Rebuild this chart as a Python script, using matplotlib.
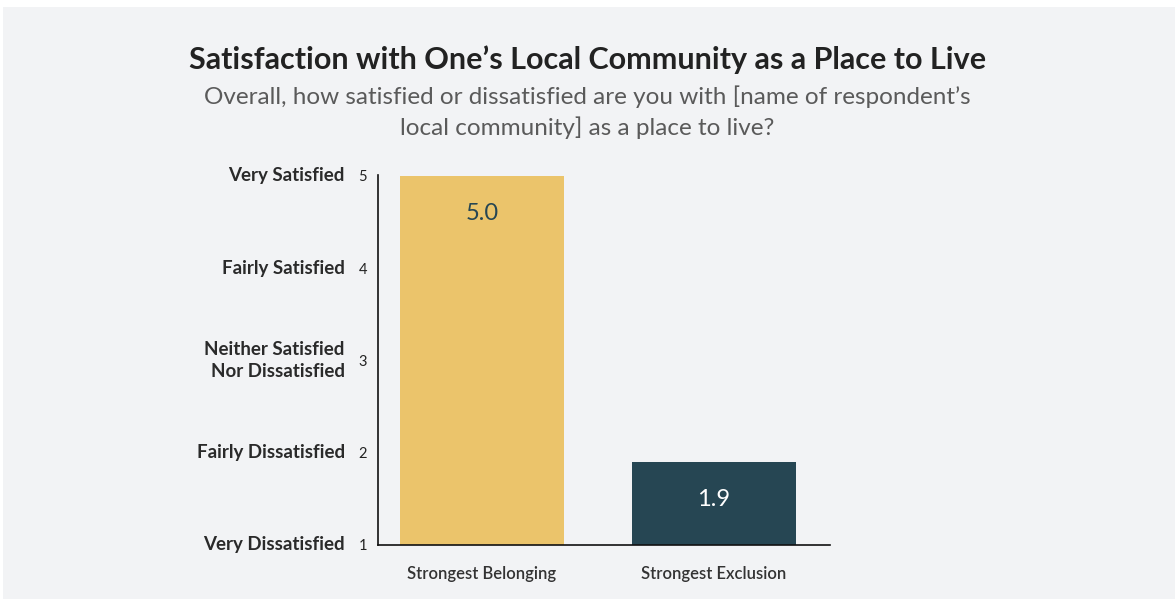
import matplotlib
matplotlib.use("Agg")
from matplotlib import pyplot as plt
from matplotlib.patches import Rectangle

# data
groups = ["Strongest Belonging", "Strongest Exclusion"]
scores = [5.0, 1.9]
bar_colors = ["#EBC46B", "#264653"]
label_colors = ["#264653", "#FFFFFF"]
tick_values = [1, 2, 3, 4, 5]
tick_names = ["Very Dissatisfied", "Fairly Dissatisfied",
              "Neither Satisfied\nNor Dissatisfied", "Fairly Satisfied", "Very Satisfied"]

BG = "#F2F3F5"
plt.rcParams['font.family'] = ['Lato', 'DejaVu Sans']

fig = plt.figure(figsize=(11.75, 5.99), dpi=100, facecolor="white")
fig.patches.append(Rectangle((3/1175, 0), 1, 1 - 7/599, transform=fig.transFigure,
                             facecolor=BG, edgecolor="none", zorder=-10))

ax = fig.add_axes([0.3217, 0.0902, 0.3847, 0.6177])
ax.set_facecolor(BG)

x = range(len(groups))
ax.bar(x, [s - 1 for s in scores], bottom=1, width=0.707, color=bar_colors, zorder=2)

for i, s in enumerate(scores):
    ax.annotate(f"{s:.1f}", (i, s), xytext=(0, -27), textcoords="offset points",
                ha="center", va="center", fontsize=17, color=label_colors[i])

ax.set_xlim(-0.448, 1.5)
ax.set_ylim(1, 5.01)
ax.set_xticks(list(x))
ax.set_xticklabels(groups, fontsize=12, fontweight="semibold", color="#333333")
ax.tick_params(axis="x", length=0, pad=15)

ax.set_yticks(tick_values)
ax.set_yticklabels([str(v) for v in tick_values], fontsize=10.5, color="#222222")
ax.tick_params(axis="y", length=0, pad=8)
for v, name in zip(tick_values, tick_names):
    ax.annotate(name, (0, v), xycoords=("axes fraction", "data"), xytext=(-24, 0),
                textcoords="offset points", ha="right", va="center",
                fontsize=13.5, fontweight="bold", color="#2a2a2a", linespacing=1.3)

for side in ["top", "right"]:
    ax.spines[side].set_visible(False)
for side in ["left", "bottom"]:
    ax.spines[side].set_color("#111111")
    ax.spines[side].set_linewidth(1.2)

fig.text(0.5, 0.9, "Satisfaction with One\u2019s Local Community as a Place to Live",
         ha="center", va="center", fontsize=22, fontweight="bold", color="#222222")
fig.text(0.5, 0.812, "Overall, how satisfied or dissatisfied are you with [name of respondent\u2019s\nlocal community] as a place to live?",
         ha="center", va="center", fontsize=17.5, color="#5a5a5a", linespacing=1.45)

fig.savefig("out.png", dpi=100, facecolor=fig.get_facecolor())
